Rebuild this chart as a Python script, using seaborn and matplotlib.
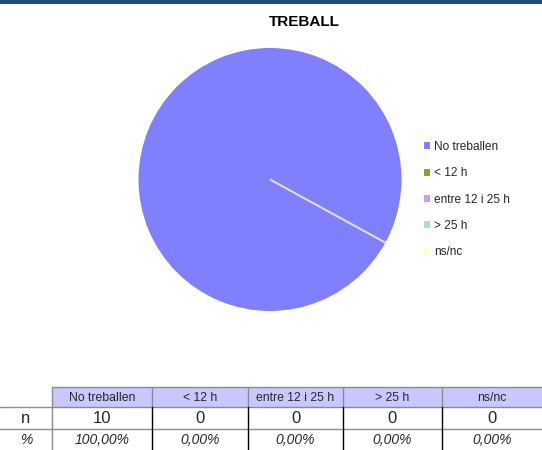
import matplotlib
matplotlib.use("Agg")
import matplotlib.pyplot as plt
import seaborn as sns

# dades
categories = ["No treballen", "< 12 h", "entre 12 i 25 h", "> 25 h", "ns/nc"]
n_values = [10, 0, 0, 0, 0]
pct_labels = ["100,00%", "0,00%", "0,00%", "0,00%", "0,00%"]
colors = ["#8080FF", "#999933", "#CC99FF", "#A0E0E0", "#FFFFCC"]
title = "TREBALL"

sns.set_theme(style="white")
plt.rcParams['font.family'] = ['Liberation Sans', 'DejaVu Sans']

W, H = 542, 450
fig = plt.figure(figsize=(W / 100, H / 100), dpi=100)

# franja superior
band = fig.add_axes([0, 1 - 4 / H, 1, 4 / H])
band.set_facecolor("#1F4A7D")
band.set_xticks([]); band.set_yticks([])
for s in band.spines.values():
    s.set_visible(False)

fig.text(304 / W, 1 - 22 / H, title, ha="center", va="center",
         fontsize=11, fontweight="bold", color="black")

# pastis
cx, cy, r = 270, 179.5, 131.5
ax = fig.add_axes([(cx - r) / W, (H - cy - r) / H, 2 * r / W, 2 * r / H])
pal = sns.color_palette(colors)
wedges, _ = ax.pie(n_values, colors=pal, startangle=-28.7, radius=1,
                   wedgeprops=dict(linewidth=0))
ax.set_xlim(-1, 1); ax.set_ylim(-1, 1)
ax.axis("off")

leg = fig.legend(wedges, categories, loc="upper left",
                 bbox_to_anchor=(424 / W, 1 - 141 / H), frameon=False,
                 fontsize=8.6, handlelength=0.52, handleheight=0.52,
                 handletextpad=0.3, labelspacing=1.2, borderpad=0,
                 borderaxespad=0)

# la linia de les porcions buides
for w, v in zip(wedges, n_values):
    if v == 0:
        w.set_edgecolor("#DCDCBC")
        w.set_linewidth(1.1)
        w.set_zorder(3)

# taula
tax = fig.add_axes([0, 0, 1, 1])
tax.set_xlim(0, W); tax.set_ylim(H, 0)
tax.axis("off")

col_x = [0, 52, 152, 248, 343, 442, 542]
row_y = [387, 407, 429, 452]
gray = "#8C8C8C"

for i, cat in enumerate(categories):
    x0, x1 = col_x[i + 1], col_x[i + 2]
    tax.add_patch(plt.Rectangle((x0, row_y[0]), x1 - x0, row_y[1] - row_y[0],
                                facecolor="#C8C8FF", edgecolor="none"))
    xm = (x0 + x1) / 2
    tax.text(xm, (row_y[0] + row_y[1]) / 2 + 1, cat, ha="center", va="center",
             fontsize=8.8)
    tax.text(xm, (row_y[1] + row_y[2]) / 2 + 0.5, str(n_values[i]), ha="center",
             va="center", fontsize=12)
    tax.text(xm, (row_y[2] + row_y[3]) / 2 - 0.5, pct_labels[i], ha="center",
             va="center", fontsize=10, style="italic")

tax.text(26, (row_y[1] + row_y[2]) / 2 + 0.5, "n", ha="center", va="center",
         fontsize=12)
tax.text(26, (row_y[2] + row_y[3]) / 2 - 0.5, "%", ha="center", va="center",
         fontsize=10, style="italic")

# vores
lw = 1.0
tax.plot([52, 542], [row_y[0], row_y[0]], color=gray, lw=lw)
tax.plot([0, 542], [row_y[1], row_y[1]], color=gray, lw=lw)
tax.plot([0, 542], [row_y[2], row_y[2]], color=gray, lw=lw)
tax.plot([52, 52], [row_y[0], row_y[3]], color=gray, lw=lw)
for xb in col_x[2:-1]:
    tax.plot([xb, xb], [row_y[0], row_y[1]], color=gray, lw=lw)
    tax.plot([xb, xb], [row_y[1], row_y[3]], color="black", lw=lw)

fig.savefig("out.png", dpi=100)
